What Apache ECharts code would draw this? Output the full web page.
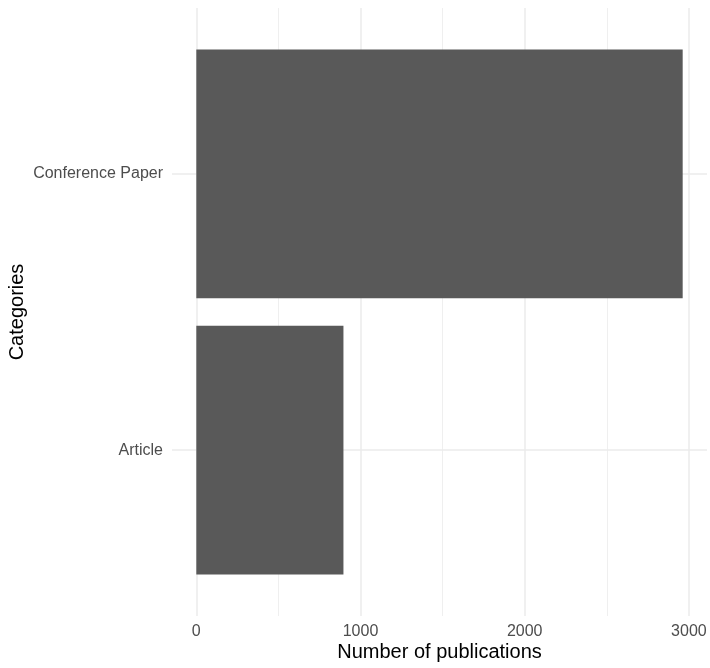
<!DOCTYPE html>
<html>
<head>
<meta charset="utf-8">
<script src="https://cdn.jsdelivr.net/npm/echarts@6/dist/echarts.min.js"></script>
<style>
html,body{margin:0;padding:0;background:#ffffff;}
#chart{width:710px;height:668px;}
</style>
</head>
<body>
<div id="chart"></div>
<script>
const categories = ['Article', 'Conference Paper'];
const publications = [896, 2962];
const xTicks = [0, 1000, 2000, 3000];
const xMinorTicks = [500, 1500, 2500];
const yGridValues = [1, 2];

const maxV = Math.max.apply(null, publications);
const xMin = -0.05 * maxV;
const xMax = 1.05 * maxV;

const FONT = 'Liberation Sans, Arial, sans-serif';
const panelTop = 8, panelBottom = 52, panelLeft = 172, panelRight = 3;
const panelH = 668 - panelTop - panelBottom;
const unit = panelH / (categories.length - 1 + 1.2);
const catPad = 0.1 * unit;

const chart = echarts.init(document.getElementById('chart'), null, {renderer: 'canvas'});
chart.setOption({
  backgroundColor: '#ffffff',
  animation: false,
  grid: [
    {left: panelLeft, right: panelRight, top: panelTop + catPad, bottom: panelBottom + catPad, containLabel: false, outerBoundsMode: 'none'},
    {left: panelLeft, right: panelRight, top: panelTop, bottom: panelBottom, containLabel: false, outerBoundsMode: 'none'}
  ],
  xAxis: [
    {gridIndex: 0, type: 'value', min: xMin, max: xMax, show: false, splitLine: {show: false}},
    {gridIndex: 1, type: 'value', min: xMin, max: xMax,
      axisLine: {show: false}, axisTick: {show: false, customValues: xTicks},
      axisLabel: {customValues: xTicks, color: '#4d4d4d', fontSize: 16, fontFamily: FONT, margin: 8,
        formatter: function (v) { return String(v); }},
      splitLine: {show: true, lineStyle: {color: '#ebebeb', width: 1.5}},
      name: 'Number of publications', nameLocation: 'middle', nameGap: 26, nameMoveOverlap: false,
      nameTextStyle: {color: '#000000', fontSize: 20, fontFamily: FONT}
    },
    {gridIndex: 1, type: 'value', min: xMin, max: xMax,
      axisLine: {show: false}, axisTick: {show: false, customValues: xMinorTicks},
      axisLabel: {show: false, customValues: xMinorTicks},
      splitLine: {show: true, lineStyle: {color: '#ebebeb', width: 0.8}}
    }
  ],
  yAxis: [
    {gridIndex: 0, type: 'category', data: categories,
      axisLine: {show: false}, axisTick: {show: false},
      axisLabel: {color: '#4d4d4d', fontSize: 16, fontFamily: FONT, margin: 9},
      splitLine: {show: false},
      name: 'Categories', nameLocation: 'middle', nameGap: 145, nameRotate: 90, nameMoveOverlap: false,
      nameTextStyle: {color: '#000000', fontSize: 20, fontFamily: FONT}
    },
    {gridIndex: 1, type: 'value', min: 1 - 0.6, max: categories.length + 0.6,
      axisLine: {show: false}, axisTick: {show: false, customValues: yGridValues},
      axisLabel: {show: false, customValues: yGridValues},
      splitLine: {show: true, lineStyle: {color: '#ebebeb', width: 1.5}}
    }
  ],
  series: [{
    type: 'bar',
    xAxisIndex: 0, yAxisIndex: 0,
    data: publications,
    barWidth: '90%',
    itemStyle: {color: '#595959'},
    z: 5
  }]
});
</script>
</body>
</html>
